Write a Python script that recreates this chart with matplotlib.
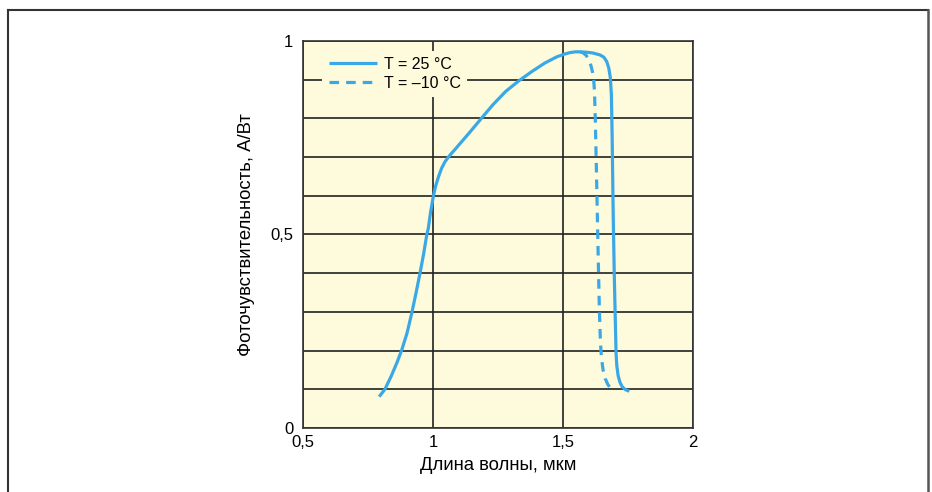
import numpy as np
import matplotlib.pyplot as plt
from matplotlib.lines import Line2D

plt.rcParams['font.family'] = ['Liberation Sans', 'DejaVu Sans']

# T = 25 °C
wl_25 = [0.793, 0.815, 0.84, 0.862, 0.880, 0.900, 0.918, 0.935, 0.950, 0.964, 0.976,
         0.982, 0.990, 1.001, 1.010, 1.021, 1.033, 1.046, 1.065, 1.085, 1.104, 1.14,
         1.181, 1.23, 1.28, 1.33, 1.38, 1.43, 1.476, 1.505, 1.527, 1.548, 1.565,
         1.59, 1.615, 1.642, 1.657, 1.668, 1.676, 1.682, 1.686, 1.689, 1.693,
         1.697, 1.701, 1.704, 1.707, 1.712, 1.719, 1.728, 1.740, 1.755]
resp_25 = [0.081, 0.10, 0.135, 0.17, 0.202, 0.245, 0.296, 0.35, 0.40, 0.45, 0.499,
           0.516, 0.555, 0.598, 0.625, 0.649, 0.671, 0.688, 0.705, 0.72, 0.735, 0.763,
           0.796, 0.835, 0.870, 0.897, 0.921, 0.943, 0.959, 0.966, 0.970, 0.972, 0.972,
           0.971, 0.969, 0.964, 0.958, 0.947, 0.930, 0.905, 0.86, 0.75, 0.55,
           0.40, 0.28, 0.193, 0.16, 0.135, 0.118, 0.106, 0.099, 0.095]

# T = -10 °C (отличается только на длинноволновом краю)
wl_m10 = [1.565, 1.578, 1.590, 1.600, 1.608, 1.614, 1.618, 1.621, 1.624, 1.628,
          1.632, 1.636, 1.640, 1.644, 1.648, 1.654, 1.662, 1.672, 1.685]
resp_m10 = [0.972, 0.969, 0.962, 0.950, 0.935, 0.918, 0.90, 0.87, 0.80, 0.68,
            0.55, 0.42, 0.30, 0.22, 0.18, 0.15, 0.128, 0.113, 0.10]

x_ticks = [0.5, 1.0, 1.5, 2.0]
x_labels = ['0,5', '1', '1,5', '2']
y_ticks = [0, 0.5, 1.0]
y_labels = ['0', '0,5', '1']

BLUE = '#3AA8E6'
CREAM = '#FEFBDC'

fig = plt.figure(figsize=(9.32, 4.92), dpi=100)
ax = fig.add_axes([0.3251, 0.1301, 0.4185, 0.7866])
ax.set_facecolor(CREAM)

ax.plot(wl_25, resp_25, color=BLUE, lw=2.3, solid_joinstyle='round',
        solid_capstyle='butt', label='T = 25 °C', zorder=3)
ax.plot(wl_m10, resp_m10, color=BLUE, lw=2.3, ls=(0, (3, 2.2)),
        dash_joinstyle='round', label='T = –10 °C', zorder=3)

ax.set_xlim(0.5, 2.0)
ax.set_ylim(0, 1.0)
ax.set_xticks(x_ticks)
ax.set_xticklabels(x_labels)
ax.set_yticks(y_ticks)
ax.set_yticklabels(y_labels)
ax.set_yticks(np.arange(0, 1.01, 0.1), minor=True)
ax.tick_params(which='both', length=0, labelsize=12, pad=7)
ax.tick_params(axis='x', pad=5)
ax.grid(True, which='both', color='#222222', lw=1.2)
ax.set_axisbelow(True)
for s in ax.spines.values():
    s.set_color('#333333')
    s.set_linewidth(1.2)

ax.set_xlabel('Длина волны, мкм', fontsize=13.3, labelpad=5)
ax.set_ylabel('Фоточувствительность, А/Вт', fontsize=13.3, labelpad=11)

leg = ax.legend(loc='upper left', bbox_to_anchor=(0.05, 0.975), fontsize=11.5,
                frameon=True, facecolor=CREAM, edgecolor='none', framealpha=1,
                handlelength=3.0, handletextpad=0.45, borderpad=0.4,
                labelspacing=0.22, borderaxespad=0)
leg.get_frame().set_boxstyle('square', pad=0)

# рамка вокруг рисунка
fig.add_artist(Line2D([0.0086, 0.0086], [0.0, 0.9797], color='#333333', lw=1.5,
                      transform=fig.transFigure))
fig.add_artist(Line2D([0.0086, 0.9957], [0.9797, 0.9797], color='#333333', lw=1.5,
                      transform=fig.transFigure))
fig.add_artist(Line2D([0.9957, 0.9957], [0.0, 0.9797], color='#555555', lw=1.8,
                      transform=fig.transFigure))

fig.savefig('out.png', dpi=100)
